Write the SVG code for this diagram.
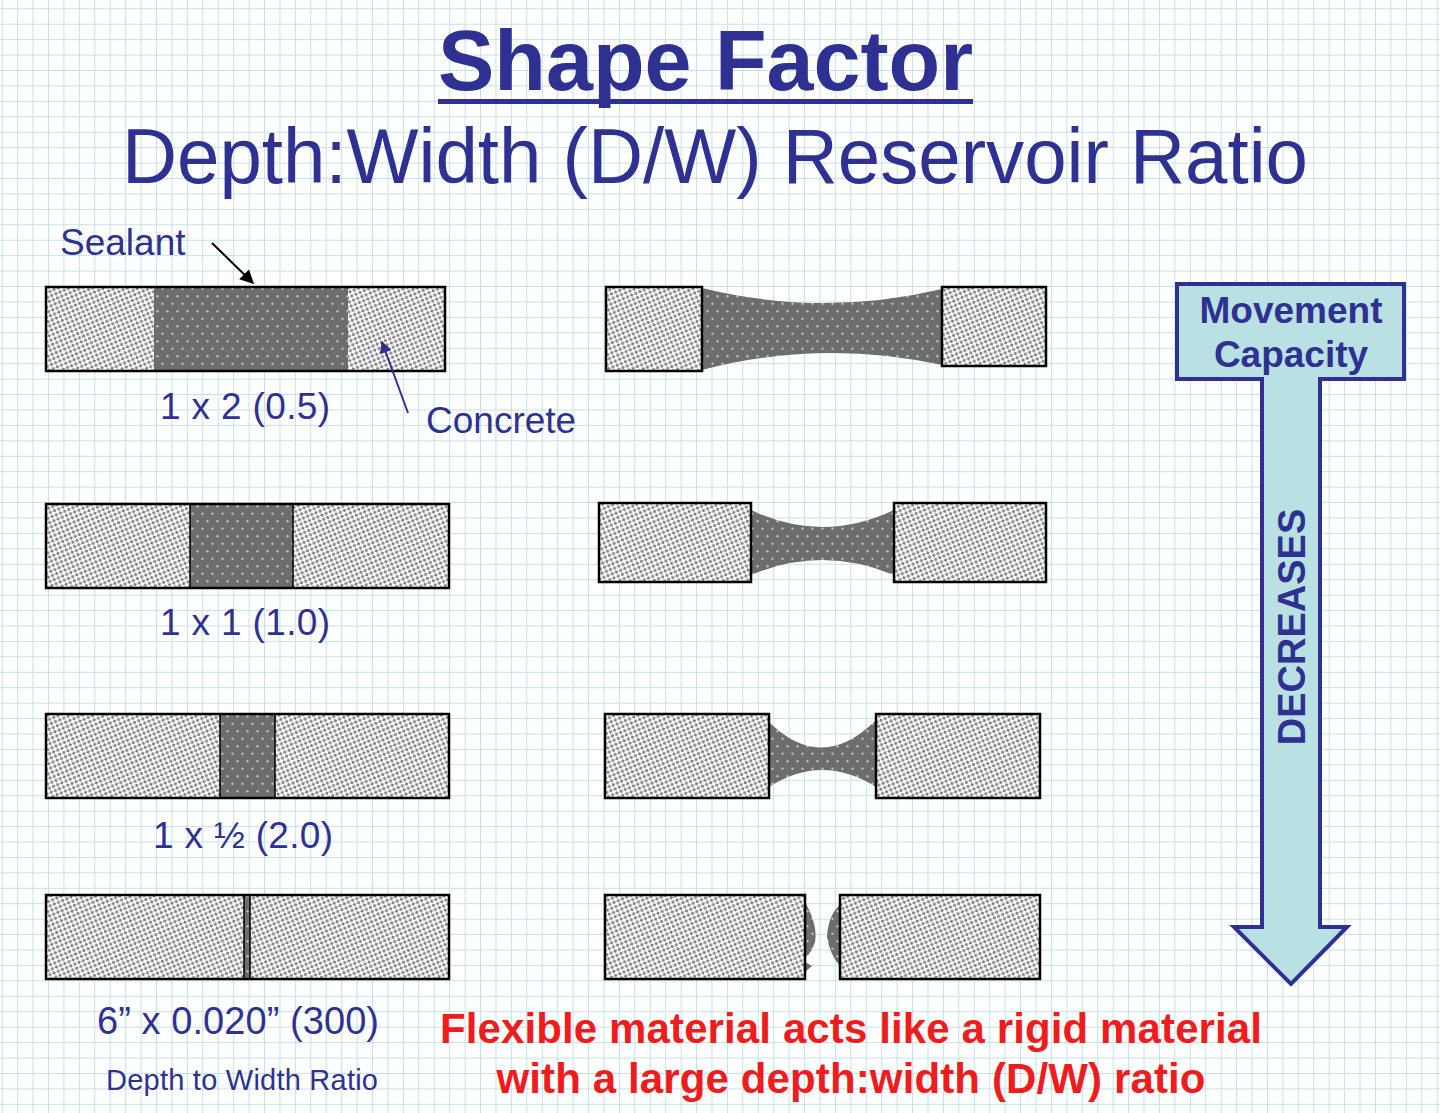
<svg xmlns="http://www.w3.org/2000/svg" width="1440" height="1113" viewBox="0 0 1440 1113">
<defs>
<pattern id="grid" patternUnits="userSpaceOnUse" width="15.43" height="15.43" patternTransform="translate(1.7,8.3)">
<path d="M0,0 V15.43 M0,0 H15.43" stroke="#c2e2e5" stroke-width="2" fill="none"/>
</pattern>
<pattern id="conc" patternUnits="userSpaceOnUse" width="6.4" height="6.4" patternTransform="rotate(22)">
<rect width="6.4" height="6.4" fill="#ffffff"/>
<rect x="0.4" y="0.4" width="2.9" height="2.9" fill="#858585"/>
<rect x="3.6" y="3.6" width="2.9" height="2.9" fill="#858585"/>
</pattern>
<pattern id="seal" patternUnits="userSpaceOnUse" width="10" height="15">
<rect width="10" height="15" fill="#6d6d6d"/>
<circle cx="2.5" cy="3.75" r="1.2" fill="#bdbdbd"/>
<circle cx="7.5" cy="11.25" r="1.2" fill="#bdbdbd"/>
</pattern>
<marker id="ahBlack" viewBox="0 0 10 10" refX="9" refY="5" markerWidth="7" markerHeight="7" markerUnits="strokeWidth" orient="auto">
<path d="M0,0 L10,5 L0,10 Z" fill="#000"/>
</marker>
<marker id="ahBlue" viewBox="0 0 10 10" refX="9" refY="5" markerWidth="7" markerHeight="6" markerUnits="strokeWidth" orient="auto">
<path d="M0,0 L10,5 L0,10 Z" fill="#2e3192"/>
</marker>
</defs>
<style>
.t{font-family:"Liberation Sans",Arial,sans-serif;fill:#2e3192}
.b{font-weight:bold}
.lbl{font-size:37px}
.red{font-family:"Liberation Sans",Arial,sans-serif;font-weight:bold;font-size:42px;fill:#ee1c1c;text-anchor:middle}
.c{fill:url(#conc)}
.s{fill:url(#seal)}
.o{fill:none;stroke:#000;stroke-width:2.5}
</style>
<rect width="1440" height="1113" fill="#ffffff"/>
<rect width="1440" height="1113" fill="url(#grid)"/>

<g id="title">
<text class="t b" x="438" y="90" font-size="86" textLength="535" lengthAdjust="spacingAndGlyphs">Shape Factor</text>
<rect x="438" y="99" width="535" height="5" fill="#2e3192"/>
</g>
<g id="subtitle">
<text class="t" x="122" y="183" font-size="78" textLength="1186" lengthAdjust="spacingAndGlyphs">Depth:Width (D/W) Reservoir Ratio</text>
</g>

<g id="joint1">
<rect class="c" x="46" y="287" width="399" height="84"/>
<rect class="s" x="154" y="287" width="194" height="84"/>
<rect class="o" x="46" y="287" width="399" height="84"/>
<text class="t lbl" x="160" y="419" textLength="170">1 x 2 (0.5)</text>
</g>
<g id="sealant-label"><text class="t lbl" x="60" y="255">Sealant</text></g>
<g id="concrete-label"><text class="t lbl" x="426" y="433">Concrete</text></g>

<g id="joint1-stretched">
<path class="s" d="M702,288 Q822,317.5 942,289 L942,365 Q822,338.5 702,370 Z"/>
<rect class="c" x="606" y="287" width="96" height="84"/>
<rect class="o" x="606" y="287" width="96" height="84"/>
<rect class="c" x="942" y="287" width="104" height="79"/>
<rect class="o" x="942" y="287" width="104" height="79"/>
</g>

<g id="joint2">
<rect class="c" x="46" y="504" width="403" height="84"/>
<rect class="s" x="190" y="504" width="103" height="84"/>
<rect class="o" x="46" y="504" width="403" height="84"/>
<line x1="190" y1="504" x2="190" y2="588" stroke="#000" stroke-width="1.5"/>
<line x1="293" y1="504" x2="293" y2="588" stroke="#000" stroke-width="1.5"/>
<text class="t lbl" x="160" y="635" textLength="170">1 x 1 (1.0)</text>
</g>

<g id="joint2-stretched">
<path class="s" d="M751,510 Q822,544 894,510 L894,575 Q822,545 751,575 Z"/>
<rect class="c" x="599" y="503" width="152" height="79"/>
<rect class="o" x="599" y="503" width="152" height="79"/>
<rect class="c" x="894" y="503" width="152" height="79"/>
<rect class="o" x="894" y="503" width="152" height="79"/>
</g>

<g id="joint3">
<rect class="c" x="46" y="714" width="403" height="84"/>
<rect class="s" x="220" y="714" width="55" height="84"/>
<rect class="o" x="46" y="714" width="403" height="84"/>
<line x1="220" y1="714" x2="220" y2="798" stroke="#000" stroke-width="1.5"/>
<line x1="275" y1="714" x2="275" y2="798" stroke="#000" stroke-width="1.5"/>
<text class="t lbl" x="153" y="848" textLength="180">1 x ½ (2.0)</text>
</g>

<g id="joint3-stretched">
<path class="s" d="M769,722 Q822,774 876,720 L876,787 Q822,753 769,787 Z"/>
<rect class="c" x="605" y="714" width="164" height="84"/>
<rect class="o" x="605" y="714" width="164" height="84"/>
<rect class="c" x="876" y="714" width="164" height="84"/>
<rect class="o" x="876" y="714" width="164" height="84"/>
</g>

<g id="joint4">
<rect class="c" x="46" y="895" width="403" height="84"/>
<rect class="s" x="244" y="895" width="6" height="84"/>
<rect class="o" x="46" y="895" width="403" height="84"/>
<line x1="244" y1="895" x2="244" y2="979" stroke="#000" stroke-width="1.5"/>
<line x1="250" y1="895" x2="250" y2="979" stroke="#000" stroke-width="1.5"/>
<text class="t" x="97" y="1034" font-size="38" textLength="282">6” x 0.020” (300)</text>
<text class="t" x="106" y="1090" font-size="29" textLength="272">Depth to Width Ratio</text>
</g>

<g id="joint4-failed">
<path class="s" d="M805,902 Q818,925 815,942 Q812,952 805,958 Z"/>
<path class="s" d="M805,962 L812,966 L805,972 Z"/>
<path class="s" d="M840,905 Q828,915 827,937 Q830,955 840,966 Z"/>
<rect class="c" x="605" y="895" width="200" height="84"/>
<rect class="o" x="605" y="895" width="200" height="84"/>
<rect class="c" x="840" y="895" width="200" height="84"/>
<rect class="o" x="840" y="895" width="200" height="84"/>
</g>

<g id="movement-arrow">
<path d="M1177,284 L1404,284 L1404,379 L1320,379 L1320,927 L1347,927 L1291,984 L1234,927 L1262,927 L1262,379 L1177,379 Z" fill="#b9e0e3" stroke="#2e3192" stroke-width="4" stroke-linejoin="miter"/>
<text class="t b" x="1291" y="323" font-size="37" text-anchor="middle">Movement</text>
<text class="t b" x="1291" y="367" font-size="37" text-anchor="middle">Capacity</text>
<text class="t b" font-size="38" text-anchor="middle" transform="translate(1305,627) rotate(-90)">DECREASES</text>
</g>

<g id="note">
<text class="red" x="851" y="1043" textLength="822">Flexible material acts like a rigid material</text>
<text class="red" x="851" y="1093" textLength="709">with a large depth:width (D/W) ratio</text>
</g>

<g id="connectors">
<line x1="212" y1="243" x2="253" y2="283" stroke="#000" stroke-width="2" marker-end="url(#ahBlack)"/>
<line x1="408" y1="413" x2="382" y2="342" stroke="#2e3192" stroke-width="2" marker-end="url(#ahBlue)"/>
</g>
</svg>
